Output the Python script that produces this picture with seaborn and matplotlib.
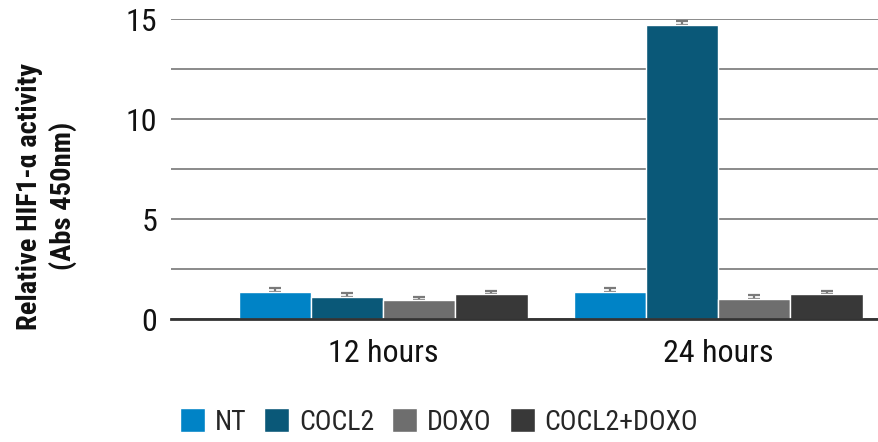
import matplotlib
matplotlib.use("Agg")
import matplotlib.pyplot as plt
from matplotlib import font_manager
import seaborn as sns
import pandas as pd
import numpy as np

# ---- data ----
timepoints = ["12 hours", "24 hours"]
treatments = ["NT", "COCL2", "DOXO", "COCL2+DOXO"]
values_12h = [1.35, 1.10, 0.95, 1.25]
values_24h = [1.35, 14.70, 1.00, 1.25]
errors_12h = [0.22, 0.22, 0.17, 0.17]
errors_24h = [0.22, 0.20, 0.21, 0.17]
yticks = [0, 5, 10, 15]
colors = ["#0083C6", "#0A5878", "#6E6E6E", "#383838"]

rows = []
for tp, vals, errs in [(timepoints[0], values_12h, errors_12h), (timepoints[1], values_24h, errors_24h)]:
    for tr, v, e in zip(treatments, vals, errs):
        rows.append({"time": tp, "treatment": tr, "value": v, "err": e})
df = pd.DataFrame(rows)

sns.set_theme(style="white")
avail = {f.name for f in font_manager.fontManager.ttflist}
fam = "DejaVu Sans"
for cand in ["Liberation Sans Narrow", "Roboto Condensed", "Roboto", "Liberation Sans"]:
    if cand in avail:
        fam = cand
        break
plt.rcParams["font.family"] = [fam, "DejaVu Sans"]

fig = plt.figure(figsize=(8.79, 4.42), dpi=100)
W, H = 879, 442
ax = fig.add_axes([171 / W, 1 - 319.3 / H, (879 - 171) / W, 300 / H])

sns.barplot(data=df, x="time", y="value", hue="treatment", order=timepoints,
            hue_order=treatments, palette=colors, width=0.862, errorbar=None,
            saturation=1, ax=ax, legend=True, zorder=3)

# error bars (upward only, drawn behind bars)
for i, tr in enumerate(treatments):
    cont = ax.containers[i]
    sub = df[df.treatment == tr].set_index("time").loc[timepoints]
    xs = [p.get_x() + p.get_width() / 2 for p in cont.patches]
    ax.errorbar(xs, sub["value"].values, yerr=[np.zeros(len(xs)), sub["err"].values],
                fmt="none", ecolor="#7a7a7a", elinewidth=1.6, capsize=4.5, capthick=1.6, zorder=2)

ax.set_ylim(0, 15)
ax.set_xlim(-212 / 335, 1 + 160.7 / 335)
ax.set_yticks([0, 2.5, 5, 7.5, 10, 12.5, 15])
ax.set_yticklabels(["0", "", "5", "", "10", "", "15"])
ax.yaxis.grid(True, color="#8a8a8a", linewidth=1.4, zorder=0)
ax.set_axisbelow(True)
for s in ["left", "right", "top"]:
    ax.spines[s].set_visible(False)
ax.spines["bottom"].set_color("#333333")
ax.spines["bottom"].set_linewidth(2)
ax.spines["bottom"].set_zorder(5)
ax.tick_params(axis="both", length=0, labelsize=23, colors="#111111")
ax.tick_params(axis="y", pad=10)
ax.tick_params(axis="x", pad=14)
ax.set_xlabel("")
ax.set_ylabel("Relative HIF1-α activity\n(Abs 450nm)", fontsize=20.5, fontweight="bold",
              color="#111111", linespacing=1.25)
ax.yaxis.set_label_coords(-0.133, 0.41)

handles, labels = ax.get_legend_handles_labels()
ax.get_legend().remove()
fig.legend(handles, labels, loc="center", bbox_to_anchor=(439 / W, 1 - 422 / H),
           ncol=4, frameon=False, fontsize=20, handlelength=0.9, handleheight=0.9,
           handletextpad=0.35, columnspacing=0.65, borderpad=0)

fig.savefig("out.png", dpi=100)
